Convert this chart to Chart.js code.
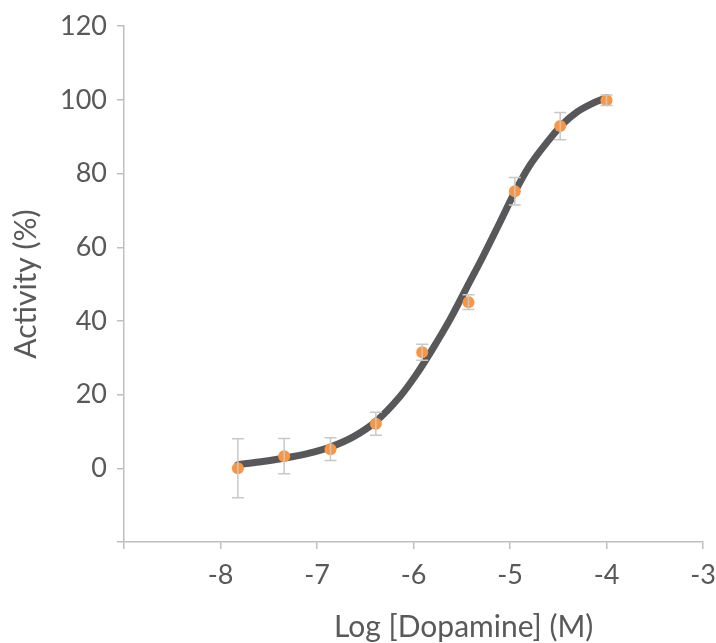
<!DOCTYPE html>
<html lang="en">

<head>
    <meta charset="UTF-8">
    <title>Dopamine dose response</title>
    <script src="https://cdn.jsdelivr.net/npm/chart.js@4.4.0/dist/chart.umd.min.js"></script>
    <style>
        html, body { margin: 0; padding: 0; background: #fff; }
        #wrap { width: 716px; height: 643px; }
    </style>
</head>

<body>
    <div id="wrap"><canvas id="chart" width="716" height="643"></canvas></div>

    <script>
        // measured points (log molar, % activity, error)
        const logDose = [-7.82, -7.34, -6.86, -6.39, -5.91, -5.43, -4.95, -4.48, -4.0];
        const activity = [0, 3.3, 5.2, 12.1, 31.5, 45.1, 75.2, 92.9, 99.9];
        const errors = [8.0, 4.8, 3.1, 3.1, 2.2, 2.0, 3.7, 3.7, 1.4];

        // fitted curve
        const fitX = [-7.82, -7.6, -7.33, -7.1, -6.86, -6.62, -6.4, -6.14, -5.97, -5.8, -5.62, -5.45, -5.28, -5.1, -4.95, -4.8, -4.6, -4.45, -4.3, -4.15, -4.0];
        const fitY = [1.0, 1.7, 2.8, 4.0, 5.8, 8.6, 12.5, 19.5, 25.5, 32.5, 40.5, 49.0, 57.5, 67.0, 75.0, 82.0, 89.0, 93.5, 96.8, 99.0, 100.6];

        const yTicks = [-20, 0, 20, 40, 60, 80, 100, 120];
        const xTicks = [-9, -8, -7, -6, -5, -4, -3];

        const FONT = 'Lato, "Open Sans", sans-serif';
        const TEXT = '#595959';
        const AXIS = '#bfbfbf';

        const errorBars = {
            id: 'errorBars',
            afterDatasetsDraw(chart) {
                const { ctx, scales: { x, y } } = chart;
                ctx.save();
                ctx.strokeStyle = '#c8c8c8';
                ctx.lineWidth = 1.5;
                logDose.forEach((d, i) => {
                    const px = x.getPixelForValue(d);
                    const top = y.getPixelForValue(activity[i] + errors[i]);
                    const bot = y.getPixelForValue(activity[i] - errors[i]);
                    ctx.beginPath();
                    ctx.moveTo(px, top); ctx.lineTo(px, bot);
                    ctx.moveTo(px - 6, top); ctx.lineTo(px + 6, top);
                    ctx.moveTo(px - 6, bot); ctx.lineTo(px + 6, bot);
                    ctx.stroke();
                });
                ctx.restore();
            }
        };

        // x title sits to the right of the plot centre in the original
        const xTitle = {
            id: 'xTitle',
            afterDraw(chart) {
                const { ctx, scales: { x } } = chart;
                ctx.save();
                ctx.font = '30px ' + FONT;
                ctx.fillStyle = TEXT;
                ctx.textAlign = 'center';
                ctx.textBaseline = 'alphabetic';
                ctx.fillText('Log [Dopamine] (M)', x.getPixelForValue(-5.48), 637);
                ctx.restore();
            }
        };

        const ctx = document.getElementById('chart').getContext('2d');

        const chart = new Chart(ctx, {
            type: 'scatter',
            data: {
                datasets: [
                    {
                        label: 'Data',
                        data: logDose.map((d, i) => ({ x: d, y: activity[i] })),
                        backgroundColor: '#f79646',
                        borderWidth: 0,
                        pointRadius: 6,
                        order: 0
                    },
                    {
                        label: 'Fit',
                        data: fitX.map((d, i) => ({ x: d, y: fitY[i] })),
                        showLine: true,
                        borderColor: '#58585a',
                        borderWidth: 7,
                        pointRadius: 0,
                        cubicInterpolationMode: 'monotone',
                        borderCapStyle: 'round',
                        order: 2
                    }
                ]
            },
            options: {
                responsive: false,
                animation: false,
                layout: { padding: { left: 0, right: 0, top: 25, bottom: 0 } },
                plugins: {
                    legend: { display: false },
                    tooltip: { enabled: false }
                },
                scales: {
                    x: {
                        type: 'linear',
                        min: -9,
                        max: -3,
                        afterBuildTicks: axis => { axis.ticks = xTicks.map(v => ({ value: v })); },
                        afterFit: axis => { axis.height = 101; axis.paddingRight = 13; },
                        border: { display: true, color: AXIS, width: 1.5 },
                        grid: { drawOnChartArea: false, drawTicks: true, tickLength: 7, color: AXIS, lineWidth: 1.5 },
                        ticks: {
                            color: TEXT,
                            font: { family: FONT, size: 27 },
                            padding: 10,
                            maxRotation: 0,
                            callback: v => v === -9 ? '' : v
                        }
                    },
                    y: {
                        min: -20,
                        max: 120,
                        afterBuildTicks: axis => { axis.ticks = yTicks.map(v => ({ value: v })); },
                        afterFit: axis => { axis.width = 124; },
                        border: { display: true, color: AXIS, width: 1.5 },
                        grid: { drawOnChartArea: false, drawTicks: true, tickLength: 7, color: AXIS, lineWidth: 1.5 },
                        ticks: {
                            color: TEXT,
                            font: { family: FONT, size: 27 },
                            padding: 10,
                            callback: v => v === -20 ? '' : v
                        },
                        title: {
                            display: true,
                            text: 'Activity (%)',
                            color: TEXT,
                            font: { family: FONT, size: 30 },
                            padding: { top: 8, bottom: 6 }
                        }
                    }
                }
            },
            plugins: [errorBars, xTitle]
        });
    </script>
</body>

</html>
